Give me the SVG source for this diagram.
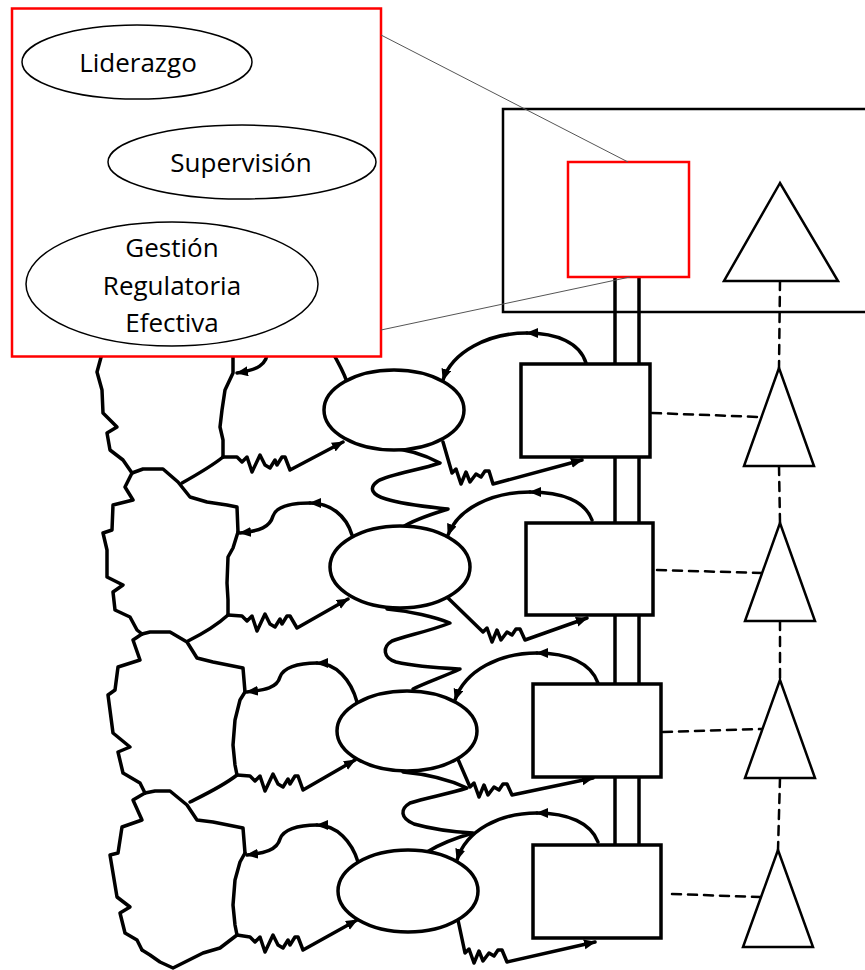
<svg xmlns="http://www.w3.org/2000/svg" width="865" height="970" viewBox="0 0 865 970">
  <style>
    .line { fill: none; stroke: #000; stroke-width: 3.5; stroke-linejoin: round; stroke-linecap: round; }
    .node { fill: #fff; stroke: #000; stroke-width: 3.5; }
    .tri { fill: #fff; stroke: #000; stroke-width: 2.5; stroke-linejoin: miter; }
    .dash { fill: none; stroke: #000; stroke-width: 2.5; stroke-dasharray: 9 7; }
    .rail { stroke: #000; stroke-width: 3.5; }
    .thin { fill: none; stroke: #555; stroke-width: 1; }
    .inset { fill: #fff; stroke: #ff0000; stroke-width: 2.5; }
    .oval { fill: #fff; stroke: #000; stroke-width: 1.5; }
    .lbl { font-family: "Open Sans", "Noto Sans", sans-serif; font-size: 26px; fill: #000; text-anchor: middle; }
  </style>
  <defs>
    <marker id="arrow" markerUnits="userSpaceOnUse" markerWidth="14" markerHeight="12" refX="11" refY="5" orient="auto">
      <path d="M0,0 L12,5 L0,10 Z" fill="#000"/>
    </marker>
  </defs>

  <!-- irregular cell boundaries on the left -->
  <g id="cells" class="line">
    <path d="M103,350 L97,372 L102,390 L103,413 L117,427 L107,433 L110,450 L123,460 L132,473"/>
    <path d="M233,350 L233,373 L225,390 L222,410 L220,427 L223,440 L223,457"/>
    <path d="M223,457 C212,466 198,474 182,483"/>
    <path d="M132,473 L143,469 L163,469 L178,482 L190,497 L207,502 L227,505 L237,507 L238,532"/>
    <path d="M238,532 L233,548 L228,557 L227,583 L228,600 L228,615"/>
    <path d="M228,615 C216,626 202,634 188,641"/>
    <path d="M132,473 L125,487 L133,500 L113,505 L112,530 L103,533 L107,550 L107,577 L123,585 L113,592 L115,610 L130,617 L137,630 L142,634"/>
    <path d="M142,634 L150,632 L170,632 L187,642 L197,658 L213,662 L243,668 L245,692"/>
    <path d="M245,692 L240,700 L235,720 L233,745 L235,765 L237,775"/>
    <path d="M237,775 C223,786 206,794 190,802"/>
    <path d="M142,634 L133,640 L140,660 L118,667 L115,690 L108,695 L113,733 L130,747 L118,752 L123,773 L140,783 L145,793"/>
    <path d="M145,793 L155,791 L170,791 L187,805 L197,820 L213,822 L243,828 L245,853"/>
    <path d="M245,853 L240,862 L235,880 L233,905 L235,925 L237,935"/>
    <path d="M237,935 L220,948 L203,953 L185,962 L173,968 L160,962 L150,955 L142,950"/>
    <path d="M145,793 L133,800 L142,820 L122,827 L118,853 L110,855 L117,897 L130,907 L120,913 L125,933 L137,940 L142,950"/>
  </g>

  <!-- connectors -->
  <g id="connectors" class="line">
    <!-- zigzag arrows: cell to oval -->
    <path marker-end="url(#arrow)" d="M223,457 L237,457 L242,462 L247,457 L252,472 L260,455 L265,465 L270,468 L275,460 L277,465 L282,457 L285,457 L290,470 L343,442"/>
    <path marker-end="url(#arrow)" d="M228,615 L242,616 L247,621 L252,616 L257,631 L265,614 L270,624 L275,627 L280,619 L282,624 L287,616 L290,616 L297,628 L348,599"/>
    <path marker-end="url(#arrow)" d="M237,775 L250,776 L255,781 L260,776 L265,791 L273,774 L278,784 L283,787 L288,779 L290,784 L295,776 L298,776 L303,790 L355,760"/>
    <path marker-end="url(#arrow)" d="M237,935 L250,937 L255,942 L260,937 L265,952 L273,935 L278,945 L283,948 L288,940 L290,945 L295,937 L298,937 L303,950 L357,920"/>

    <!-- zigzag arrows: oval to box -->
    <path marker-end="url(#arrow)" d="M443,442 L452,473 L456,469 L461,484 L466,472 L470,482 L476,474 L481,477 L485,471 L489,471 L493,484 L582,460"/>
    <path marker-end="url(#arrow)" d="M448,598 L483,632 L487,628 L492,642 L497,630 L501,640 L507,632 L512,635 L516,629 L520,629 L525,640 L587,618"/>
    <path marker-end="url(#arrow)" d="M457,757 L470,787 L474,783 L479,797 L484,785 L488,795 L494,787 L499,790 L503,784 L507,784 L512,795 L593,778"/>
    <path marker-end="url(#arrow)" d="M458,920 L465,953 L469,949 L474,963 L479,951 L483,961 L489,953 L494,956 L498,950 L502,950 L507,962 L595,942"/>

    <!-- curved arrows: box to oval -->
    <path marker-end="url(#arrow)" d="M586,363 C580,343 557,333 527,333"/>
    <path marker-end="url(#arrow)" d="M527,333 C488,333 452,352 443,380"/>
    <path marker-end="url(#arrow)" d="M592,520 C585,501 562,492 530,492"/>
    <path marker-end="url(#arrow)" d="M530,492 C493,492 458,508 448,535"/>
    <path marker-end="url(#arrow)" d="M598,683 C591,663 568,653 537,653"/>
    <path marker-end="url(#arrow)" d="M537,653 C500,653 465,670 455,700"/>
    <path marker-end="url(#arrow)" d="M598,842 C591,823 568,813 537,813"/>
    <path marker-end="url(#arrow)" d="M537,813 C500,813 466,830 457,860"/>

    <!-- curved arrows: oval to cell -->
    <path d="M347,382 C343,370 337,360 330,348"/>
    <path marker-end="url(#arrow)" d="M268,348 C268,366 256,370 237,373"/>
    <path marker-end="url(#arrow)" d="M352,535 C346,515 330,503 310,503"/>
    <path marker-end="url(#arrow)" d="M310,503 C290,503 276,507 273,516 C270,527 260,531 240,533"/>
    <path marker-end="url(#arrow)" d="M357,702 C351,680 336,663 317,663"/>
    <path marker-end="url(#arrow)" d="M317,663 C297,663 283,668 280,677 C277,688 265,690 247,692"/>
    <path marker-end="url(#arrow)" d="M358,862 C352,842 337,825 317,825"/>
    <path marker-end="url(#arrow)" d="M317,825 C297,825 283,830 280,839 C277,850 265,853 247,855"/>

    <!-- wavy links between ovals -->
    <path d="M388,448 C405,449 425,455 440,463 C420,470 390,474 378,481 C368,488 372,495 386,499 C405,505 430,507 448,509 C432,514 415,519 403,527"/>
    <path d="M387,609 C410,611 435,617 450,623 C430,631 405,636 392,641 C382,647 383,658 396,662 C418,667 440,668 460,669 C445,676 425,683 413,689"/>
    <path d="M403,772 C425,774 450,780 467,788 C448,794 425,798 410,803 C400,809 400,818 414,824 C435,830 455,832 473,833 C455,838 440,844 427,852"/>

    <!-- double rails -->
    <g class="rail">
      <line x1="615" y1="277" x2="615" y2="364"/><line x1="639" y1="277" x2="639" y2="364"/>
      <line x1="615" y1="457" x2="615" y2="523"/><line x1="639" y1="457" x2="639" y2="523"/>
      <line x1="615" y1="615" x2="615" y2="684"/><line x1="639" y1="615" x2="639" y2="684"/>
      <line x1="615" y1="777" x2="615" y2="845"/><line x1="639" y1="777" x2="639" y2="845"/>
    </g>

    <!-- dashed links -->
    <g class="dash">
      <line x1="780" y1="281" x2="779" y2="368"/>
      <line x1="779" y1="466" x2="780" y2="523"/>
      <line x1="780" y1="621" x2="780" y2="680"/>
      <line x1="780" y1="778" x2="778" y2="850"/>
      <line x1="652" y1="413" x2="760" y2="417"/>
      <line x1="657" y1="570" x2="762" y2="573"/>
      <line x1="663" y1="732" x2="762" y2="729"/>
      <line x1="672" y1="894" x2="760" y2="897"/>
    </g>
  </g>

  <!-- ovals -->
  <g id="oval-1"><ellipse class="node" cx="394" cy="410" rx="70" ry="40"/></g>
  <g id="oval-2"><ellipse class="node" cx="400" cy="567" rx="70" ry="41"/></g>
  <g id="oval-3"><ellipse class="node" cx="407" cy="731" rx="70" ry="40"/></g>
  <g id="oval-4"><ellipse class="node" cx="408" cy="891" rx="70" ry="41"/></g>

  <!-- boxes -->
  <g id="box-1"><rect class="node" x="521" y="364" width="129" height="93"/></g>
  <g id="box-2"><rect class="node" x="526" y="523" width="127" height="92"/></g>
  <g id="box-3"><rect class="node" x="533" y="684" width="128" height="93"/></g>
  <g id="box-4"><rect class="node" x="533" y="845" width="128" height="93"/></g>

  <!-- triangles -->
  <g id="tri-top"><polygon class="tri" points="780,183 724,281 838,281"/></g>
  <g id="tri-1"><polygon class="tri" points="779,368 744,466 814,466"/></g>
  <g id="tri-2"><polygon class="tri" points="780,523 745,621 815,621"/></g>
  <g id="tri-3"><polygon class="tri" points="780,680 745,778 815,778"/></g>
  <g id="tri-4"><polygon class="tri" points="778,850 743,947 813,947"/></g>

  <!-- top frame and highlighted box -->
  <g id="frame"><rect x="503" y="109" width="400" height="203" fill="none" stroke="#000" stroke-width="2.5"/></g>
  <g id="focus"><rect x="568" y="162" width="121" height="115" fill="#fff" stroke="#ff0000" stroke-width="2.5"/></g>

  <!-- detail panel -->
  <g id="detail">
    <rect class="inset" x="12" y="8.5" width="369" height="348"/>
    <g id="liderazgo">
      <ellipse class="oval" cx="137" cy="62" rx="115" ry="37"/>
      <text class="lbl" x="138" y="72">Liderazgo</text>
    </g>
    <g id="supervision">
      <ellipse class="oval" cx="242" cy="162" rx="134" ry="37"/>
      <text class="lbl" x="241" y="172">Supervisión</text>
    </g>
    <g id="gestion">
      <ellipse class="oval" cx="172" cy="284" rx="146" ry="62"/>
      <text class="lbl" x="172" y="257">Gestión</text>
      <text class="lbl" x="172" y="295">Regulatoria</text>
      <text class="lbl" x="172" y="332">Efectiva</text>
    </g>
  </g>
  <g id="zoom-lines" class="thin">
    <line x1="381" y1="35" x2="628" y2="162"/>
    <line x1="381" y1="330" x2="630" y2="277"/>
  </g>
</svg>
